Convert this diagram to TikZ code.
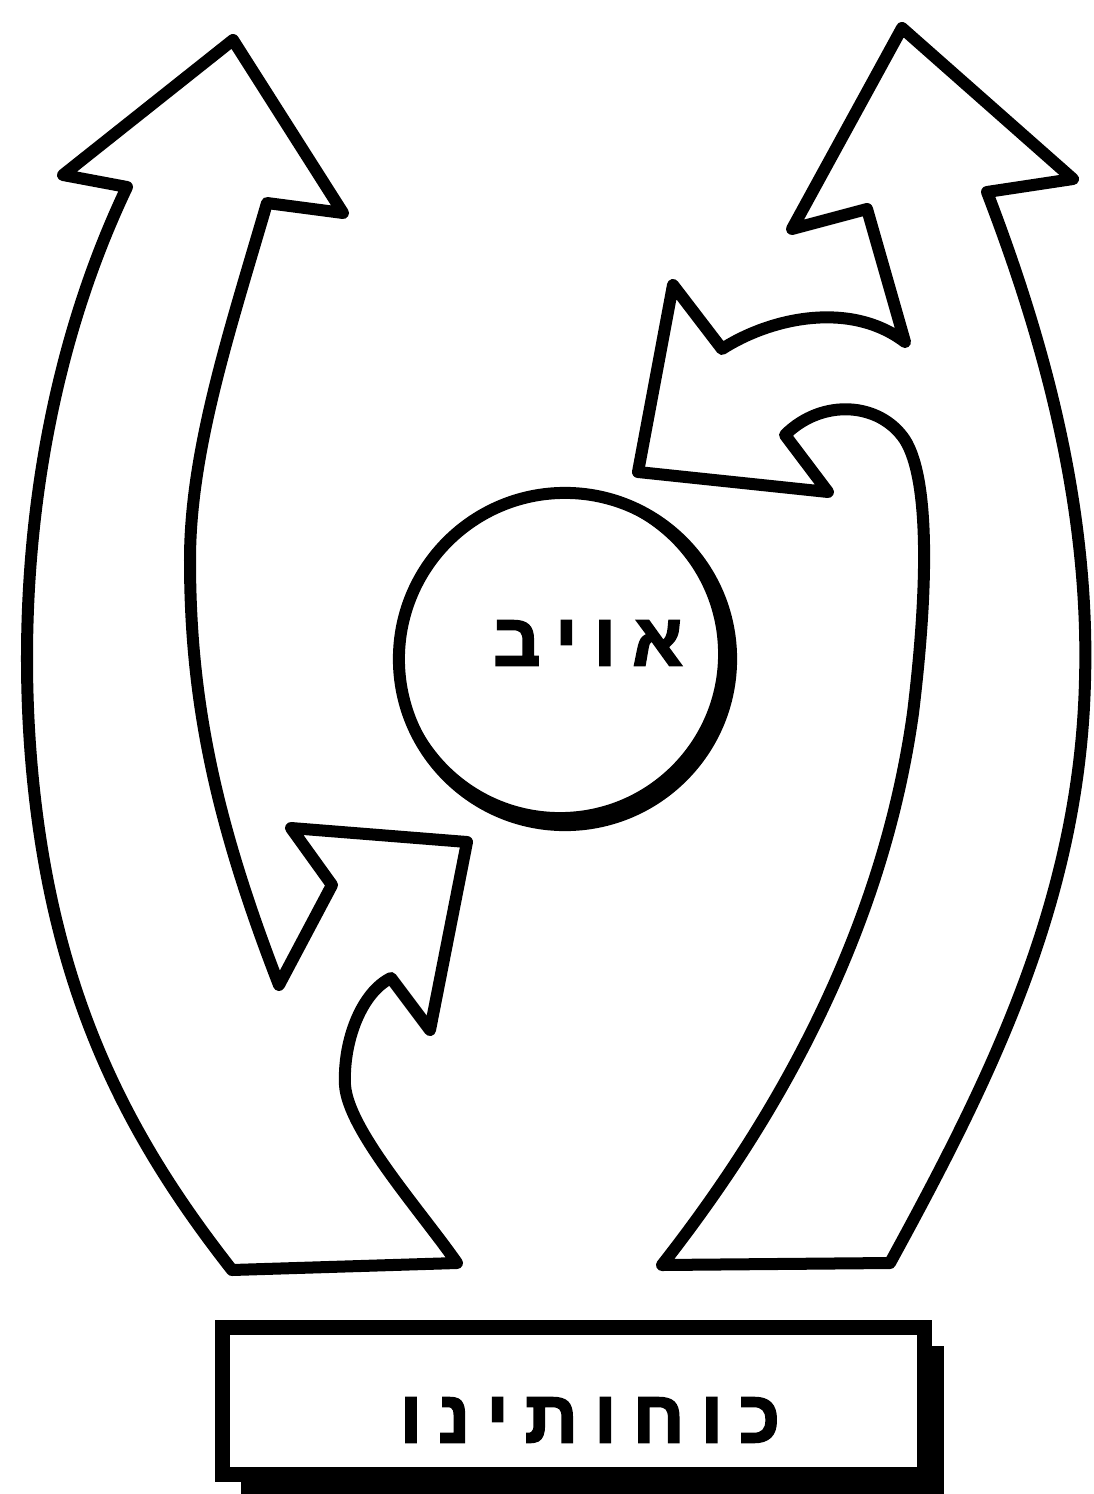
\documentclass[tikz,border=0pt]{standalone}
\usepackage{fontspec}
\newfontfamily\hebfont[Script=Hebrew,FakeBold=2.5]{Liberation Sans Bold}
\TeXXeTstate=1
\usetikzlibrary{shadows}
\tikzset{band/.style={draw,fill=white,line width=0.12cm,line join=round},ring/.style={draw,circle,fill=white,line width=0.12cm,minimum size=3.32cm,inner sep=0pt},plate/.style={draw,rectangle,fill=white,line width=0.15cm,minimum width=7.02cm,minimum height=1.475cm,inner sep=0pt,drop shadow={shadow xshift=0.19cm,shadow yshift=-0.19cm,fill=black,opacity=1}},word/.style={font=\hebfont\fontsize{21}{25}\selectfont\addfontfeature{LetterSpace=22}}}

\begin{document}
\begin{tikzpicture}[x=0.01cm,y=-0.01cm]
\useasboundingbox (0,0) rectangle (1094,1494);
\fill[white] (0,0) rectangle (1094,1494);
% left arrow with branch towards the circle
\draw[band] (127,187) -- (63,175) -- (233,40) -- (343,213) -- (267,203)
  .. controls (230,330) and (190,450) .. (190,560)
  .. controls (190,700) and (215,820) .. (279,985)
  -- (332,885) -- (291,828) -- (467,842) -- (430,1030) -- (391,978)
  .. controls (362,992) and (343,1040) .. (345,1085)
  .. controls (348,1130) and (420,1210) .. (457,1263)
  -- (232,1270)
  .. controls (130,1140) and (55,1000) .. (33,780)
  .. controls (15,600) and (35,380) .. cycle;
% right arrow with branch towards the circle
\draw[band] (867,209) -- (792,229) -- (902,28) -- (1073,179) -- (987,192)
  .. controls (1040,330) and (1090,500) .. (1085,680)
  .. controls (1080,900) and (990,1080) .. (890,1263)
  -- (662,1265)
  .. controls (760,1140) and (880,950) .. (913,713)
  .. controls (928,590) and (930,480) .. (905,440)
  .. controls (880,402) and (822,398) .. (785,435)
  -- (828,492) -- (638,472) -- (673,285) -- (722,349)
  .. controls (770,318) and (850,300) .. (905,342)
  -- cycle;
% enemy
\node[ring] (enemy) at (565,659) {};
\fill[even odd rule] (enemy.center) circle[radius=1.61cm] ([shift={(-5,-5)}]enemy.center) circle[radius=1.58cm];
\node[word] (enemylabel) at (588,643) {\beginR אויב\endR};
% our forces
\node[plate] (forces) at (573.5,1401) {};
\node[word] (forceslabel) at (590,1420) {\beginR כוחותינו\endR};
\end{tikzpicture}
\end{document}
